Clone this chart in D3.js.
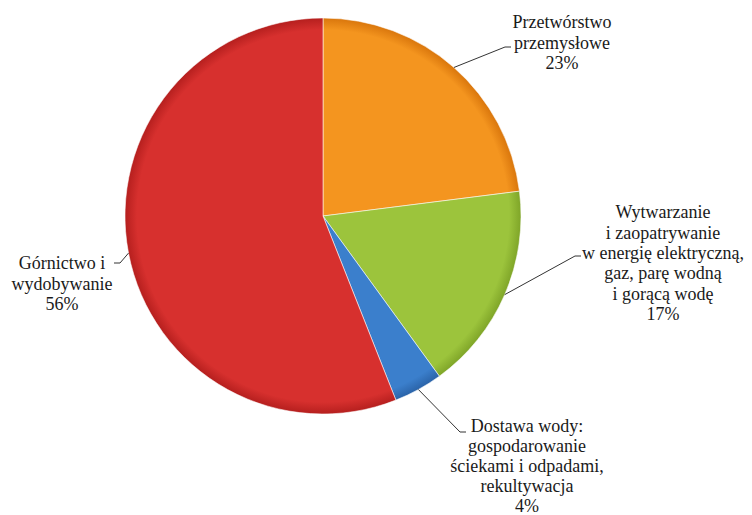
<!DOCTYPE html>
<html>
<head>
<meta charset="utf-8">
<script src="https://cdn.jsdelivr.net/npm/d3@7"></script>
<style>
  body { margin: 0; background: white; }
</style>
</head>
<body>
<script>
// data
const categories = [
    ['Przetwórstwo', 'przemysłowe'],
    ['Wytwarzanie', 'i zaopatrywanie', 'w energię elektryczną,', 'gaz, parę wodną', 'i gorącą wodę'],
    ['Dostawa wody:', 'gospodarowanie', 'ściekami i odpadami,', 'rekultywacja'],
    ['Górnictwo i', 'wydobywanie']
]
const shares = [23, 17, 4, 56]
const colours = ['#f4951f', '#9cc43c', '#3b7fcc', '#d7302e']
const edgeColours = ['#d9760c', '#7fa528', '#2a63a8', '#b51f1e']

function main(){
    const width = 752, height = 515
    const cx = 323, cy = 216, r = 198

    const svg = d3.select('body').append('svg')
        .attr('width', width)
        .attr('height', height)

    const defs = svg.append('defs')
    colours.forEach((c, i) => {
        const g = defs.append('radialGradient')
            .attr('id', 'grad' + i)
            .attr('gradientUnits', 'userSpaceOnUse')
            .attr('cx', 0).attr('cy', 0).attr('r', r)
        g.append('stop').attr('offset', '0%').attr('stop-color', c)
        g.append('stop').attr('offset', '94%').attr('stop-color', c)
        g.append('stop').attr('offset', '100%').attr('stop-color', edgeColours[i])
    })

    const pie = d3.pie().sort(null).value(d => d)
    const arcs = pie(shares)
    const arc = d3.arc().innerRadius(0).outerRadius(r)

    const g = svg.append('g').attr('transform', `translate(${cx},${cy})`)
    g.selectAll('path')
        .data(arcs)
        .enter()
        .append('path')
        .attr('d', arc)
        .attr('fill', (d, i) => `url(#grad${i})`)
        .attr('stroke', 'rgba(255,255,255,0.55)')
        .attr('stroke-width', 1)

    // label layout: block centre x, first line y, elbow point, side of text
    const labelAt = [
        {x: 562, y: 22, ex: 505, ey: 47, side: 1},
        {x: 663, y: 212, ex: 575, ey: 256, side: 1},
        {x: 527, y: 426, ex: 460, ey: 432, side: 1},
        {x: 62, y: 263, ex: 120, ey: 263, side: -1}
    ]
    const lineH = 20.3

    arcs.forEach((a, i) => {
        const mid = (a.startAngle + a.endAngle) / 2
        const px = cx + r * Math.sin(mid)
        const py = cy - r * Math.cos(mid)
        const L = labelAt[i]
        svg.append('polyline')
            .attr('points', `${px},${py} ${L.ex},${L.ey} ${L.ex + 6 * L.side},${L.ey}`)
            .attr('fill', 'none')
            .attr('stroke', '#333')
            .attr('stroke-width', 1)

        const lines = categories[i].concat([shares[i] + '%'])
        const t = svg.append('text')
            .attr('text-anchor', 'middle')
            .attr('font-family', 'Liberation Serif')
            .attr('font-size', 18)
            .attr('fill', '#1a1a1a')
        lines.forEach((s, j) => {
            t.append('tspan')
                .attr('x', L.x)
                .attr('y', L.y + j * (i === 2 ? 19.8 : lineH))
                .attr('dy', '0.35em')
                .text(s)
        })
    })
}

main()
</script>
</body>
</html>
